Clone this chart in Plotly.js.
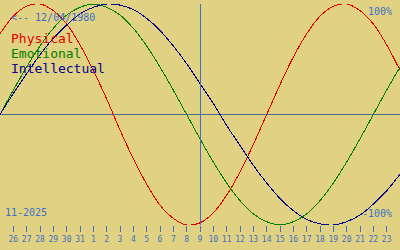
<!DOCTYPE html>
<html>
<head>
<meta charset="utf-8">
<script src="https://cdn.plot.ly/plotly-3.0.1.min.js"></script>
<style>
html,body{margin:0;padding:0;background:#e0d282;}
#chart{width:400px;height:250px;}
#chart path{shape-rendering:crispEdges;}
</style>
</head>
<body>
<div id="chart"></div>
<script>
// day index: 0 = 26 Oct 2025 ... 28 = 23 Nov 2025
const days = [-1,0,1,2,3,4,5,6,7,8,9,10,11,12,13,14,15,16,17,18,19,20,21,22,23,24,25,26,27,28,29];
const physical = [0.73,0.89,0.98,1.00,0.94,0.82,0.63,0.40,0.14,-0.14,-0.40,-0.63,-0.82,-0.94,-1.00,-0.98,-0.89,-0.73,-0.52,-0.27,0.00,0.27,0.52,0.73,0.89,0.98,1.00,0.94,0.82,0.63,0.40];
const emotional = [0.00,0.22,0.43,0.62,0.78,0.90,0.97,1.00,0.97,0.90,0.78,0.62,0.43,0.22,0.00,-0.22,-0.43,-0.62,-0.78,-0.90,-0.97,-1.00,-0.97,-0.90,-0.78,-0.62,-0.43,-0.22,0.00,0.22,0.43];
const intellectual = [0.00,0.19,0.37,0.54,0.69,0.81,0.91,0.97,1.00,0.99,0.95,0.87,0.76,0.62,0.46,0.28,0.10,-0.10,-0.28,-0.46,-0.62,-0.76,-0.87,-0.95,-0.99,-1.00,-0.97,-0.91,-0.81,-0.69,-0.54];
const tickDays = [0,1,2,3,4,5,6,7,8,9,10,11,12,13,14,15,16,17,18,19,20,21,22,23,24,25,26,27,28];
const tickLabels = ["26","27","28","29","30","31","1","2","3","4","5","6","7","8","9","10","11","12","13","14","15","16","17","18","19","20","21","22","23"];
const todayDay = 14;
const birthLabel = "<-- 12/04/1980";
const monthLabel = "11-2025";

const H = 250, T = 4, B = 25, plotH = H - T - B;
const py = p => (H - B - p) / plotH;
const mono = "DejaVu Sans Mono, monospace";
const blue = "#3f6fc4";

const mk = (y, c) => ({x: days, y: y, type: "scatter", mode: "lines",
  line: {color: c, width: 1, shape: "spline"}, hoverinfo: "skip", showlegend: false});

const data = [mk(physical, "#e00000"), mk(emotional, "#008000"), mk(intellectual, "#000090")];

const layout = {
  width: 400, height: 250,
  margin: {l: 0, r: 0, t: T, b: B, pad: 0},
  paper_bgcolor: "#e0d282", plot_bgcolor: "#e0d282",
  showlegend: false,
  xaxis: {range: [-1, 29], showgrid: false, zeroline: false, showline: false,
    tickmode: "array", tickvals: tickDays, ticktext: tickLabels,
    ticks: "outside", ticklen: 6, tickwidth: 1, tickcolor: blue,
    tickfont: {family: mono, size: 8, color: blue}, fixedrange: true},
  yaxis: {range: [-1, 1], showgrid: false, showticklabels: false, ticks: "",
    zeroline: true, zerolinecolor: "#4a6a92", zerolinewidth: 1, showline: false, fixedrange: true},
  shapes: [{type: "line", xref: "x", yref: "paper", x0: todayDay, x1: todayDay, y0: 0, y1: 1,
    line: {color: blue, width: 1}}],
  annotations: [
    {text: birthLabel, x: 9/400, y: py(17), xref: "paper", yref: "paper", xanchor: "left", yanchor: "middle", showarrow: false, font: {family: mono, size: 10, color: blue}},
    {text: "Physical", x: 9/400, y: py(38), xref: "paper", yref: "paper", xanchor: "left", yanchor: "middle", showarrow: false, font: {family: mono, size: 13, color: "#e00000"}},
    {text: "Emotional", x: 9/400, y: py(53), xref: "paper", yref: "paper", xanchor: "left", yanchor: "middle", showarrow: false, font: {family: mono, size: 13, color: "#008000"}},
    {text: "Intellectual", x: 9/400, y: py(68), xref: "paper", yref: "paper", xanchor: "left", yanchor: "middle", showarrow: false, font: {family: mono, size: 13, color: "#000090"}},
    {text: "100%", x: 394/400, y: py(12), xref: "paper", yref: "paper", xanchor: "right", yanchor: "middle", showarrow: false, font: {family: mono, size: 10, color: blue}},
    {text: "-100%", x: 394/400, y: py(213), xref: "paper", yref: "paper", xanchor: "right", yanchor: "middle", showarrow: false, font: {family: mono, size: 10, color: blue}},
    {text: monthLabel, x: 3/400, y: py(212), xref: "paper", yref: "paper", xanchor: "left", yanchor: "middle", showarrow: false, font: {family: mono, size: 10, color: blue}}
  ]
};

Plotly.newPlot("chart", data, layout, {staticPlot: true, displayModeBar: false});
</script>
</body>
</html>
